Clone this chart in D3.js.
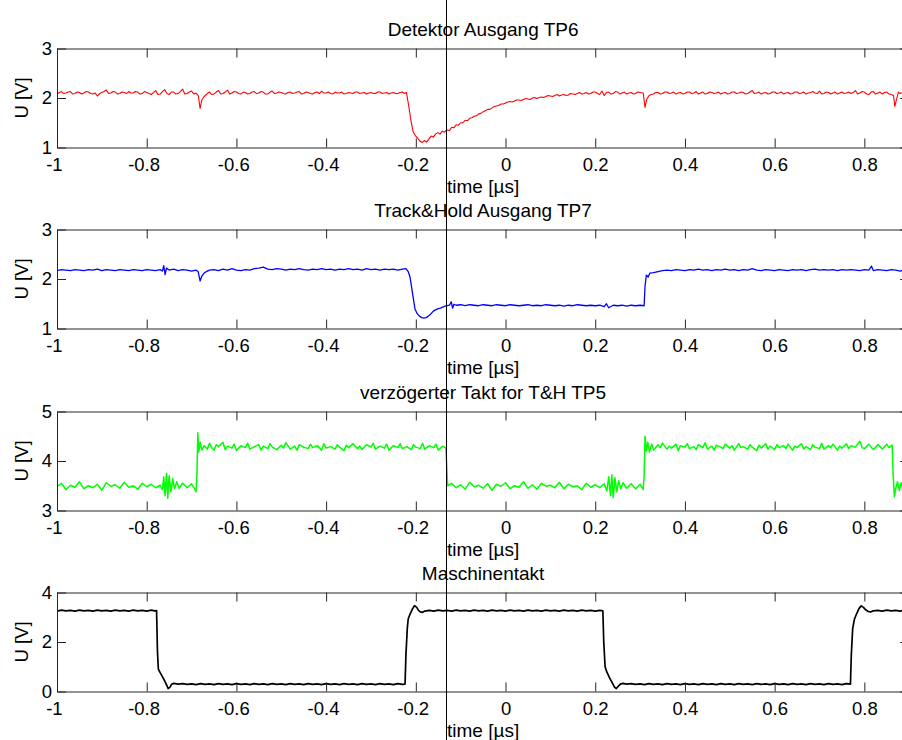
<!DOCTYPE html>
<html>
<head>
<meta charset="utf-8">
<script src="https://cdn.jsdelivr.net/npm/d3@7"></script>
<style>
  html, body { margin: 0; padding: 0; background: #fff; }
  svg { display: block; font-family: "Liberation Sans", Arial, Helvetica, sans-serif; }
</style>
</head>
<body>
<svg id="chart" width="902" height="740"></svg>
<script>
// ---------------- DATA ----------------
const titles = ["Detektor Ausgang TP6", "Track&Hold Ausgang TP7", "verzögerter Takt for T&H TP5", "Maschinentakt"];
const xLabel = "time [\u00b5s]";
const yLabel = "U [V]";
const xDomain = [-1, 0.9];
const xTicks = [-1, -0.8, -0.6, -0.4, -0.2, 0, 0.2, 0.4, 0.6, 0.8];
const xTickLabels = ["-1", "-0.8", "-0.6", "-0.4", "-0.2", "0", "0.2", "0.4", "0.6", "0.8"];
const yDomains = [[1, 3], [1, 3], [3, 5], [0, 4]];
const yTicks = [[1, 2, 3], [1, 2, 3], [3, 4, 5], [0, 2, 4]];
const markerTime = -0.131;

// Detektor Ausgang TP6 (red) [time µs, U V]
const detektor = [[-1.00,2.08],[-0.995,2.11],[-0.99,2.13],[-0.985,2.09],[-0.98,2.10],[-0.975,2.12],[-0.97,2.13],[-0.965,2.08],[-0.96,2.09],[-0.955,2.12],[-0.95,2.11],[-0.945,2.08],[-0.94,2.10],[-0.935,2.13],[-0.93,2.12],[-0.925,2.09],[-0.92,2.08],[-0.915,2.10],[-0.91,2.04],[-0.905,2.09],[-0.90,2.11],[-0.895,2.13],[-0.89,2.16],[-0.885,2.09],[-0.88,2.10],[-0.875,2.13],[-0.87,2.12],[-0.865,2.08],[-0.86,2.09],[-0.855,2.12],[-0.85,2.11],[-0.845,2.09],[-0.84,2.13],[-0.835,2.10],[-0.83,2.10],[-0.825,2.13],[-0.82,2.12],[-0.815,2.08],[-0.81,2.09],[-0.805,2.13],[-0.80,2.11],[-0.795,2.09],[-0.79,2.07],[-0.785,2.11],[-0.78,2.15],[-0.775,2.07],[-0.77,2.08],[-0.765,2.13],[-0.76,2.17],[-0.755,2.09],[-0.75,2.07],[-0.745,2.12],[-0.74,2.12],[-0.735,2.08],[-0.73,2.09],[-0.725,2.13],[-0.72,2.18],[-0.715,2.08],[-0.71,2.09],[-0.705,2.12],[-0.70,2.14],[-0.695,2.08],[-0.69,2.10],[-0.685,2.05],[-0.681,1.79],[-0.677,1.96],[-0.672,2.03],[-0.665,2.09],[-0.66,2.12],[-0.655,2.07],[-0.65,2.08],[-0.645,2.12],[-0.64,2.15],[-0.635,2.08],[-0.63,2.09],[-0.625,2.12],[-0.62,2.16],[-0.615,2.08],[-0.61,2.10],[-0.605,2.13],[-0.60,2.12],[-0.595,2.09],[-0.59,2.08],[-0.585,2.12],[-0.58,2.11],[-0.575,2.08],[-0.57,2.09],[-0.565,2.12],[-0.56,2.13],[-0.555,2.09],[-0.55,2.10],[-0.545,2.13],[-0.54,2.12],[-0.535,2.08],[-0.53,2.08],[-0.525,2.12],[-0.52,2.14],[-0.515,2.09],[-0.51,2.10],[-0.505,2.12],[-0.50,2.11],[-0.495,2.09],[-0.49,2.08],[-0.485,2.11],[-0.48,2.12],[-0.475,2.09],[-0.47,2.10],[-0.465,2.12],[-0.46,2.13],[-0.455,2.08],[-0.45,2.09],[-0.445,2.12],[-0.44,2.11],[-0.435,2.09],[-0.43,2.08],[-0.425,2.11],[-0.42,2.12],[-0.415,2.09],[-0.41,2.14],[-0.405,2.10],[-0.40,2.10],[-0.395,2.12],[-0.39,2.09],[-0.385,2.08],[-0.38,2.12],[-0.375,2.10],[-0.37,2.10],[-0.365,2.12],[-0.36,2.08],[-0.355,2.09],[-0.35,2.11],[-0.345,2.10],[-0.34,2.09],[-0.335,2.12],[-0.33,2.12],[-0.325,2.09],[-0.32,2.10],[-0.315,2.11],[-0.31,2.08],[-0.305,2.10],[-0.30,2.11],[-0.295,2.09],[-0.29,2.09],[-0.285,2.12],[-0.28,2.12],[-0.275,2.09],[-0.27,2.10],[-0.265,2.11],[-0.26,2.08],[-0.255,2.10],[-0.25,2.11],[-0.245,2.09],[-0.24,2.09],[-0.235,2.11],[-0.23,2.12],[-0.225,2.09],[-0.221,2.11],[-0.216,1.85],[-0.211,1.55],[-0.206,1.32],[-0.201,1.24],[-0.196,1.19],[-0.191,1.13],[-0.186,1.10],[-0.181,1.14],[-0.176,1.11],[-0.171,1.17],[-0.166,1.23],[-0.161,1.21],[-0.156,1.27],[-0.151,1.30],[-0.146,1.27],[-0.141,1.33],[-0.136,1.31],[-0.131,1.36],[-0.125,1.34],[-0.12,1.41],[-0.115,1.40],[-0.11,1.46],[-0.105,1.45],[-0.10,1.50],[-0.095,1.50],[-0.09,1.55],[-0.085,1.54],[-0.08,1.59],[-0.075,1.60],[-0.07,1.63],[-0.065,1.64],[-0.06,1.68],[-0.055,1.69],[-0.05,1.72],[-0.045,1.74],[-0.04,1.77],[-0.035,1.77],[-0.03,1.80],[-0.025,1.83],[-0.02,1.84],[-0.015,1.85],[-0.01,1.88],[-0.005,1.88],[0.00,1.90],[0.005,1.92],[0.01,1.93],[0.015,1.92],[0.02,1.94],[0.025,1.96],[0.03,1.96],[0.035,1.95],[0.04,1.97],[0.045,1.99],[0.05,1.98],[0.055,1.97],[0.06,2.00],[0.065,2.01],[0.07,1.99],[0.075,2.01],[0.08,2.02],[0.085,2.01],[0.09,2.03],[0.095,2.05],[0.10,2.04],[0.105,2.03],[0.11,2.05],[0.115,2.07],[0.12,2.04],[0.125,2.06],[0.13,2.07],[0.135,2.05],[0.14,2.06],[0.145,2.09],[0.15,2.08],[0.155,2.07],[0.16,2.09],[0.165,2.11],[0.17,2.08],[0.175,2.09],[0.18,2.11],[0.185,2.08],[0.19,2.09],[0.195,2.12],[0.20,2.12],[0.205,2.09],[0.21,2.07],[0.215,2.14],[0.22,2.05],[0.225,2.11],[0.23,2.12],[0.235,2.08],[0.24,2.09],[0.245,2.13],[0.25,2.12],[0.255,2.08],[0.26,2.10],[0.265,2.12],[0.27,2.08],[0.275,2.10],[0.28,2.11],[0.285,2.08],[0.29,2.09],[0.295,2.12],[0.30,2.11],[0.307,2.10],[0.311,1.81],[0.315,1.98],[0.32,2.05],[0.325,2.07],[0.33,2.08],[0.335,2.11],[0.34,2.11],[0.345,2.08],[0.35,2.09],[0.355,2.12],[0.36,2.12],[0.365,2.09],[0.37,2.10],[0.375,2.12],[0.38,2.08],[0.385,2.10],[0.39,2.11],[0.395,2.08],[0.40,2.09],[0.405,2.12],[0.41,2.12],[0.415,2.09],[0.42,2.10],[0.425,2.13],[0.43,2.08],[0.435,2.10],[0.44,2.12],[0.445,2.08],[0.45,2.09],[0.455,2.12],[0.46,2.11],[0.465,2.09],[0.47,2.10],[0.475,2.12],[0.48,2.08],[0.485,2.10],[0.49,2.11],[0.495,2.08],[0.50,2.09],[0.505,2.12],[0.51,2.12],[0.515,2.09],[0.52,2.10],[0.525,2.12],[0.53,2.11],[0.535,2.08],[0.54,2.09],[0.545,2.12],[0.55,2.15],[0.555,2.09],[0.56,2.10],[0.565,2.12],[0.57,2.08],[0.575,2.10],[0.58,2.11],[0.585,2.08],[0.59,2.09],[0.595,2.12],[0.60,2.12],[0.605,2.09],[0.61,2.10],[0.615,2.12],[0.62,2.08],[0.625,2.10],[0.63,2.11],[0.635,2.08],[0.64,2.09],[0.645,2.12],[0.65,2.12],[0.655,2.09],[0.66,2.10],[0.665,2.12],[0.67,2.08],[0.675,2.10],[0.68,2.11],[0.685,2.13],[0.69,2.10],[0.695,2.09],[0.70,2.14],[0.705,2.08],[0.71,2.09],[0.715,2.12],[0.72,2.11],[0.725,2.08],[0.73,2.10],[0.735,2.12],[0.74,2.08],[0.745,2.10],[0.75,2.12],[0.755,2.09],[0.76,2.10],[0.765,2.12],[0.77,2.09],[0.775,2.11],[0.78,2.15],[0.785,2.08],[0.79,2.10],[0.795,2.13],[0.80,2.12],[0.805,2.08],[0.81,2.07],[0.815,2.12],[0.82,2.13],[0.825,2.08],[0.83,2.10],[0.835,2.12],[0.84,2.08],[0.845,2.11],[0.85,2.12],[0.855,2.08],[0.86,2.07],[0.865,2.05],[0.868,1.83],[0.872,1.98],[0.876,2.12],[0.88,2.09],[0.885,2.11],[0.89,2.12],[0.895,2.08],[0.90,2.10]];

// Track&Hold Ausgang TP7 (blue)
const trackHold = [[-1.00,2.17],[-0.99,2.19],[-0.98,2.18],[-0.97,2.17],[-0.96,2.19],[-0.95,2.18],[-0.94,2.17],[-0.93,2.19],[-0.92,2.18],[-0.91,2.20],[-0.90,2.17],[-0.89,2.19],[-0.88,2.18],[-0.87,2.17],[-0.86,2.19],[-0.85,2.18],[-0.84,2.17],[-0.83,2.19],[-0.82,2.18],[-0.81,2.17],[-0.80,2.19],[-0.79,2.18],[-0.78,2.17],[-0.77,2.19],[-0.765,2.16],[-0.762,2.27],[-0.759,2.09],[-0.756,2.22],[-0.75,2.18],[-0.74,2.20],[-0.73,2.17],[-0.72,2.19],[-0.71,2.18],[-0.70,2.16],[-0.69,2.18],[-0.685,2.14],[-0.681,1.96],[-0.677,2.06],[-0.672,2.12],[-0.665,2.16],[-0.66,2.18],[-0.65,2.19],[-0.64,2.17],[-0.63,2.20],[-0.62,2.18],[-0.61,2.21],[-0.60,2.18],[-0.59,2.17],[-0.58,2.19],[-0.57,2.18],[-0.56,2.21],[-0.55,2.22],[-0.54,2.24],[-0.53,2.20],[-0.52,2.19],[-0.51,2.21],[-0.50,2.20],[-0.49,2.18],[-0.48,2.20],[-0.47,2.19],[-0.46,2.21],[-0.45,2.19],[-0.44,2.18],[-0.43,2.20],[-0.42,2.19],[-0.41,2.21],[-0.40,2.19],[-0.39,2.20],[-0.38,2.18],[-0.37,2.20],[-0.36,2.19],[-0.35,2.21],[-0.34,2.19],[-0.33,2.20],[-0.32,2.18],[-0.31,2.21],[-0.30,2.19],[-0.29,2.20],[-0.28,2.18],[-0.27,2.20],[-0.26,2.19],[-0.25,2.20],[-0.24,2.18],[-0.23,2.20],[-0.222,2.21],[-0.217,2.15],[-0.213,2.04],[-0.208,1.75],[-0.202,1.40],[-0.197,1.30],[-0.192,1.25],[-0.187,1.22],[-0.182,1.21],[-0.177,1.22],[-0.172,1.25],[-0.166,1.30],[-0.161,1.35],[-0.155,1.38],[-0.15,1.40],[-0.145,1.41],[-0.14,1.43],[-0.135,1.45],[-0.13,1.46],[-0.125,1.47],[-0.121,1.54],[-0.118,1.41],[-0.115,1.49],[-0.11,1.47],[-0.10,1.48],[-0.09,1.46],[-0.08,1.48],[-0.07,1.47],[-0.06,1.46],[-0.05,1.48],[-0.04,1.47],[-0.03,1.46],[-0.02,1.48],[-0.01,1.47],[0.00,1.46],[0.01,1.48],[0.02,1.47],[0.03,1.46],[0.04,1.47],[0.05,1.48],[0.06,1.46],[0.07,1.47],[0.08,1.46],[0.09,1.48],[0.10,1.47],[0.11,1.46],[0.12,1.47],[0.13,1.45],[0.14,1.47],[0.15,1.46],[0.16,1.48],[0.17,1.47],[0.18,1.46],[0.19,1.47],[0.20,1.46],[0.21,1.47],[0.22,1.44],[0.225,1.50],[0.23,1.42],[0.24,1.47],[0.25,1.46],[0.26,1.47],[0.27,1.45],[0.28,1.47],[0.29,1.46],[0.30,1.47],[0.309,1.46],[0.311,1.85],[0.314,2.08],[0.318,2.04],[0.322,2.12],[0.33,2.13],[0.34,2.15],[0.35,2.17],[0.36,2.18],[0.37,2.17],[0.38,2.19],[0.39,2.18],[0.40,2.17],[0.41,2.19],[0.42,2.18],[0.43,2.20],[0.44,2.18],[0.45,2.19],[0.46,2.17],[0.47,2.19],[0.48,2.18],[0.49,2.20],[0.50,2.18],[0.51,2.19],[0.52,2.17],[0.53,2.19],[0.54,2.18],[0.55,2.21],[0.56,2.18],[0.57,2.17],[0.58,2.19],[0.59,2.18],[0.60,2.17],[0.61,2.19],[0.62,2.18],[0.63,2.17],[0.64,2.19],[0.65,2.18],[0.66,2.19],[0.67,2.17],[0.68,2.19],[0.69,2.20],[0.70,2.18],[0.71,2.19],[0.72,2.18],[0.73,2.19],[0.74,2.17],[0.75,2.19],[0.76,2.18],[0.77,2.19],[0.78,2.18],[0.79,2.17],[0.80,2.19],[0.81,2.18],[0.816,2.26],[0.82,2.17],[0.83,2.19],[0.84,2.18],[0.85,2.17],[0.86,2.19],[0.87,2.18],[0.88,2.16],[0.89,2.19],[0.90,2.18]];

// verzögerter Takt for T&H TP5 (green)
const taktTH = [[-1.00,3.48],[-0.99,3.55],[-0.98,3.42],[-0.97,3.51],[-0.96,3.47],[-0.95,3.58],[-0.94,3.44],[-0.93,3.50],[-0.92,3.46],[-0.91,3.53],[-0.90,3.41],[-0.89,3.56],[-0.88,3.49],[-0.87,3.52],[-0.86,3.45],[-0.85,3.57],[-0.84,3.47],[-0.83,3.50],[-0.82,3.43],[-0.81,3.55],[-0.80,3.48],[-0.79,3.53],[-0.78,3.46],[-0.77,3.51],[-0.765,3.42],[-0.762,3.68],[-0.759,3.30],[-0.756,3.75],[-0.753,3.25],[-0.75,3.70],[-0.746,3.38],[-0.742,3.64],[-0.738,3.44],[-0.733,3.58],[-0.728,3.45],[-0.72,3.55],[-0.71,3.46],[-0.70,3.54],[-0.694,3.45],[-0.690,3.38],[-0.688,3.72],[-0.686,4.57],[-0.684,4.18],[-0.681,4.38],[-0.677,4.22],[-0.672,4.31],[-0.665,4.24],[-0.66,4.36],[-0.655,4.27],[-0.65,4.22],[-0.645,4.33],[-0.64,4.29],[-0.63,4.38],[-0.625,4.23],[-0.62,4.30],[-0.61,4.26],[-0.605,4.34],[-0.60,4.21],[-0.59,4.31],[-0.58,4.27],[-0.575,4.36],[-0.57,4.24],[-0.56,4.29],[-0.55,4.33],[-0.545,4.22],[-0.54,4.30],[-0.53,4.25],[-0.525,4.35],[-0.52,4.28],[-0.51,4.23],[-0.50,4.32],[-0.495,4.26],[-0.49,4.37],[-0.48,4.24],[-0.47,4.30],[-0.465,4.22],[-0.46,4.33],[-0.45,4.28],[-0.44,4.25],[-0.435,4.34],[-0.43,4.27],[-0.42,4.31],[-0.41,4.22],[-0.405,4.35],[-0.40,4.26],[-0.39,4.29],[-0.38,4.24],[-0.375,4.33],[-0.37,4.28],[-0.36,4.21],[-0.355,4.32],[-0.35,4.27],[-0.34,4.35],[-0.33,4.25],[-0.325,4.30],[-0.32,4.23],[-0.31,4.33],[-0.30,4.28],[-0.295,4.36],[-0.29,4.24],[-0.28,4.30],[-0.27,4.26],[-0.265,4.34],[-0.26,4.22],[-0.25,4.31],[-0.24,4.27],[-0.235,4.35],[-0.23,4.25],[-0.22,4.29],[-0.21,4.23],[-0.205,4.33],[-0.20,4.28],[-0.19,4.25],[-0.185,4.36],[-0.18,4.24],[-0.17,4.31],[-0.16,4.27],[-0.155,4.34],[-0.15,4.22],[-0.14,4.30],[-0.133,4.26],[-0.129,3.50],[-0.12,3.55],[-0.11,3.46],[-0.10,3.52],[-0.09,3.43],[-0.08,3.57],[-0.07,3.48],[-0.06,3.51],[-0.05,3.45],[-0.04,3.54],[-0.03,3.41],[-0.02,3.53],[-0.01,3.49],[0.00,3.56],[0.01,3.44],[0.02,3.50],[0.03,3.47],[0.04,3.58],[0.05,3.45],[0.06,3.52],[0.07,3.43],[0.08,3.55],[0.09,3.49],[0.10,3.51],[0.11,3.46],[0.12,3.57],[0.13,3.44],[0.14,3.53],[0.15,3.48],[0.16,3.50],[0.17,3.42],[0.18,3.55],[0.19,3.47],[0.20,3.52],[0.21,3.46],[0.22,3.54],[0.226,3.40],[0.23,3.68],[0.234,3.30],[0.237,3.72],[0.24,3.26],[0.244,3.66],[0.248,3.38],[0.252,3.60],[0.257,3.44],[0.262,3.56],[0.27,3.45],[0.28,3.54],[0.29,3.44],[0.30,3.53],[0.307,3.42],[0.309,3.70],[0.311,4.50],[0.314,4.20],[0.317,4.38],[0.321,4.18],[0.326,4.34],[0.33,4.22],[0.34,4.33],[0.345,4.27],[0.35,4.36],[0.36,4.24],[0.365,4.30],[0.37,4.26],[0.38,4.34],[0.385,4.21],[0.39,4.31],[0.40,4.28],[0.405,4.35],[0.41,4.25],[0.42,4.29],[0.425,4.23],[0.43,4.33],[0.44,4.27],[0.445,4.37],[0.45,4.24],[0.46,4.30],[0.465,4.22],[0.47,4.32],[0.48,4.28],[0.485,4.25],[0.49,4.34],[0.50,4.26],[0.505,4.31],[0.51,4.22],[0.52,4.35],[0.525,4.27],[0.53,4.29],[0.54,4.24],[0.545,4.33],[0.55,4.28],[0.56,4.21],[0.565,4.32],[0.57,4.26],[0.58,4.35],[0.585,4.24],[0.59,4.30],[0.60,4.23],[0.605,4.33],[0.61,4.27],[0.62,4.31],[0.625,4.25],[0.63,4.34],[0.64,4.22],[0.645,4.30],[0.65,4.27],[0.66,4.35],[0.665,4.24],[0.67,4.29],[0.68,4.23],[0.685,4.33],[0.69,4.28],[0.70,4.25],[0.705,4.36],[0.71,4.24],[0.72,4.31],[0.725,4.27],[0.73,4.34],[0.74,4.22],[0.745,4.30],[0.75,4.26],[0.76,4.35],[0.765,4.25],[0.77,4.31],[0.78,4.28],[0.785,4.34],[0.79,4.40],[0.795,4.27],[0.80,4.25],[0.81,4.34],[0.815,4.28],[0.82,4.23],[0.83,4.33],[0.835,4.29],[0.84,4.24],[0.85,4.34],[0.855,4.27],[0.858,4.30],[0.862,4.32],[0.864,3.75],[0.867,3.28],[0.870,3.45],[0.874,3.58],[0.878,3.40],[0.882,3.56],[0.886,3.45],[0.89,3.55],[0.895,3.46],[0.90,3.52]];

// Maschinentakt (black)
const maschinentakt = [[-1.00,3.25],[-0.99,3.29],[-0.98,3.26],[-0.97,3.28],[-0.96,3.25],[-0.95,3.29],[-0.94,3.26],[-0.93,3.28],[-0.92,3.25],[-0.91,3.29],[-0.90,3.26],[-0.89,3.28],[-0.88,3.25],[-0.87,3.29],[-0.86,3.26],[-0.85,3.28],[-0.84,3.25],[-0.83,3.29],[-0.82,3.26],[-0.81,3.28],[-0.80,3.25],[-0.79,3.29],[-0.782,3.26],[-0.778,3.27],[-0.776,1.60],[-0.774,0.90],[-0.77,0.76],[-0.765,0.60],[-0.76,0.43],[-0.755,0.24],[-0.752,0.12],[-0.748,0.18],[-0.745,0.28],[-0.74,0.33],[-0.73,0.30],[-0.72,0.32],[-0.71,0.29],[-0.70,0.31],[-0.69,0.28],[-0.68,0.32],[-0.67,0.29],[-0.66,0.31],[-0.65,0.28],[-0.64,0.32],[-0.63,0.29],[-0.62,0.31],[-0.61,0.28],[-0.60,0.32],[-0.59,0.29],[-0.58,0.31],[-0.57,0.28],[-0.56,0.32],[-0.55,0.29],[-0.54,0.31],[-0.53,0.28],[-0.52,0.32],[-0.51,0.29],[-0.50,0.31],[-0.49,0.28],[-0.48,0.32],[-0.47,0.29],[-0.46,0.31],[-0.45,0.28],[-0.44,0.32],[-0.43,0.29],[-0.42,0.31],[-0.41,0.28],[-0.40,0.32],[-0.39,0.29],[-0.38,0.31],[-0.37,0.28],[-0.36,0.32],[-0.35,0.29],[-0.34,0.31],[-0.33,0.28],[-0.32,0.32],[-0.31,0.29],[-0.30,0.31],[-0.29,0.28],[-0.28,0.32],[-0.27,0.29],[-0.26,0.31],[-0.25,0.28],[-0.24,0.32],[-0.23,0.29],[-0.224,0.30],[-0.222,1.50],[-0.219,2.55],[-0.217,2.93],[-0.213,3.12],[-0.208,3.32],[-0.203,3.47],[-0.198,3.40],[-0.194,3.28],[-0.19,3.22],[-0.185,3.20],[-0.18,3.25],[-0.17,3.28],[-0.16,3.25],[-0.15,3.29],[-0.14,3.26],[-0.13,3.28],[-0.12,3.25],[-0.11,3.29],[-0.10,3.26],[-0.09,3.28],[-0.08,3.25],[-0.07,3.29],[-0.06,3.26],[-0.05,3.28],[-0.04,3.25],[-0.03,3.29],[-0.02,3.26],[-0.01,3.28],[0.00,3.25],[0.01,3.29],[0.02,3.26],[0.03,3.28],[0.04,3.25],[0.05,3.29],[0.06,3.26],[0.07,3.28],[0.08,3.25],[0.09,3.29],[0.10,3.26],[0.11,3.28],[0.12,3.25],[0.13,3.29],[0.14,3.26],[0.15,3.28],[0.16,3.25],[0.17,3.29],[0.18,3.26],[0.19,3.28],[0.20,3.25],[0.21,3.28],[0.217,3.26],[0.219,2.00],[0.222,1.00],[0.226,0.78],[0.232,0.55],[0.238,0.35],[0.243,0.18],[0.247,0.12],[0.251,0.20],[0.256,0.30],[0.262,0.33],[0.27,0.30],[0.28,0.32],[0.29,0.29],[0.30,0.31],[0.31,0.28],[0.32,0.32],[0.33,0.29],[0.34,0.31],[0.35,0.28],[0.36,0.32],[0.37,0.29],[0.38,0.31],[0.39,0.28],[0.40,0.32],[0.41,0.29],[0.42,0.31],[0.43,0.28],[0.44,0.32],[0.45,0.29],[0.46,0.31],[0.47,0.28],[0.48,0.32],[0.49,0.29],[0.50,0.31],[0.51,0.28],[0.52,0.32],[0.53,0.29],[0.54,0.31],[0.55,0.28],[0.56,0.32],[0.57,0.29],[0.58,0.31],[0.59,0.28],[0.60,0.32],[0.61,0.29],[0.62,0.31],[0.63,0.28],[0.64,0.32],[0.65,0.29],[0.66,0.31],[0.67,0.28],[0.68,0.32],[0.69,0.29],[0.70,0.31],[0.71,0.28],[0.72,0.32],[0.73,0.29],[0.74,0.31],[0.75,0.28],[0.76,0.32],[0.769,0.30],[0.771,1.50],[0.774,2.55],[0.778,2.93],[0.783,3.15],[0.788,3.35],[0.793,3.46],[0.798,3.40],[0.803,3.30],[0.808,3.24],[0.814,3.21],[0.82,3.26],[0.83,3.28],[0.84,3.25],[0.85,3.29],[0.86,3.26],[0.87,3.28],[0.88,3.25],[0.89,3.29],[0.90,3.27]];

const seriesData = [detektor, trackHold, taktTH, maschinentakt];
const seriesColors = ["#ff0000", "#0000ff", "#00ff00", "#000000"];
const seriesWidths = [1.1, 1.3, 1.5, 1.7];

// ---------------- LAYOUT ----------------
const W = 902, H = 740;
const plotLeft = 57, plotRight = 909.2;
const panelTops = [48.5, 229.5, 411.5, 592.5];
const panelHeight = 99;
const tickLen = 9;

const svg = d3.select("#chart");
const x = d3.scaleLinear().domain(xDomain).range([plotLeft, plotRight]);

panelTops.forEach((top, i) => {
  const bottom = top + panelHeight;
  const y = d3.scaleLinear().domain(yDomains[i]).range([bottom, top]);
  const g = svg.append("g");

  const clipId = "clip" + i;
  svg.append("clipPath").attr("id", clipId)
    .append("rect").attr("x", plotLeft).attr("y", top).attr("width", plotRight - plotLeft).attr("height", panelHeight);

  const line = d3.line().x(d => x(d[0])).y(d => y(d[1]));
  g.append("path")
    .datum(seriesData[i])
    .attr("clip-path", `url(#${clipId})`)
    .attr("fill", "none")
    .attr("stroke", seriesColors[i])
    .attr("stroke-width", seriesWidths[i])
    .attr("stroke-linejoin", "round")
    .attr("d", line);

  const axB = d3.axisBottom(x).tickValues(xTicks).tickSizeInner(-tickLen).tickSizeOuter(0)
    .tickPadding(10).tickFormat((d, k) => xTickLabels[k]);
  const axT = d3.axisTop(x).tickValues(xTicks).tickSizeInner(-tickLen).tickSizeOuter(0).tickFormat("");
  const axL = d3.axisLeft(y).tickValues(yTicks[i]).tickSizeInner(-tickLen).tickSizeOuter(0)
    .tickPadding(5).tickFormat(d => String(d));
  const axR = d3.axisRight(y).tickValues(yTicks[i]).tickSizeInner(-tickLen).tickSizeOuter(0).tickFormat("");

  const gb = g.append("g").attr("transform", `translate(0,${bottom})`).call(axB);
  const gt = g.append("g").attr("transform", `translate(0,${top})`).call(axT);
  const gl = g.append("g").attr("transform", `translate(${plotLeft},0)`).call(axL);
  const gr = g.append("g").attr("transform", `translate(${plotRight},0)`).call(axR);

  [gb, gt, gl, gr].forEach(a => {
    a.selectAll(".domain").attr("stroke", "#262626").attr("stroke-width", 1);
    a.selectAll(".tick line").attr("stroke", "#262626");
    a.selectAll("text").attr("fill", "#000").style("font-size", "18.5px")
      .style("font-family", '"Liberation Sans", Arial, Helvetica, sans-serif');
  });
  gb.selectAll(".tick text").attr("dx", d => d < 0 ? "-0.17em" : 0);

  g.append("text")
    .attr("x", (plotLeft + plotRight) / 2).attr("y", top - 13)
    .attr("text-anchor", "middle").style("font-size", "19px").text(titles[i]);
  g.append("text")
    .attr("x", (plotLeft + plotRight) / 2).attr("y", bottom + 45)
    .attr("text-anchor", "middle").style("font-size", "19px").text(xLabel);
  g.append("text")
    .attr("transform", `translate(28,${(top + bottom) / 2}) rotate(-90)`)
    .attr("text-anchor", "middle").style("font-size", "18.5px").text(yLabel);
});

// vertical marker line across the whole figure
const mx = Math.floor(x(markerTime)) + 0.5;
svg.append("line")
  .attr("x1", mx).attr("x2", mx).attr("y1", 0).attr("y2", H)
  .attr("stroke", "#000").attr("stroke-width", 1);
</script>
</body>
</html>
